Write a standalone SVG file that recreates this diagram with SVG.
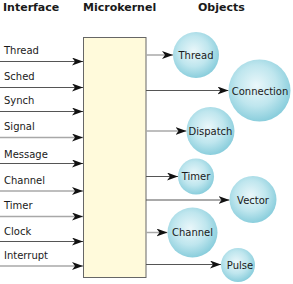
<svg xmlns="http://www.w3.org/2000/svg" width="293" height="284" viewBox="0 0 293 284">
<style>
text{font-family:"DejaVu Sans","Verdana",sans-serif;fill:#1a1a1a}
.h{font-size:11px;font-weight:bold}
.l{font-size:10px}
.o{font-size:10px;text-anchor:middle}
.d{stroke:#555;stroke-width:1;fill:none;marker-end:url(#ah)}
.g{stroke:#a8a8a8;stroke-width:1.5;fill:none;marker-end:url(#ah)}
.c{fill:url(#bg)}
</style>
<defs>
<marker id="ah" markerUnits="userSpaceOnUse" markerWidth="12" markerHeight="9" refX="11" refY="4" orient="auto">
<path d="M0,0 L11,4 L0,8 L3,4 Z" fill="#111"/>
</marker>
<radialGradient id="bg" cx="0.45" cy="0.42" r="0.6">
<stop offset="0" stop-color="#eaf7fa"/>
<stop offset="0.55" stop-color="#bfe6ee"/>
<stop offset="1" stop-color="#86ccdb"/>
</radialGradient>
</defs>
<rect width="293" height="284" fill="#fff"/>
<g id="headers">
<text class="h" x="3" y="11">Interface</text>
<text class="h" x="83" y="11">Microkernel</text>
<text class="h" x="198" y="11">Objects</text>
</g>
<g id="microkernel">
<rect x="83.5" y="37.5" width="62.5" height="240" fill="#fffadb" stroke="#666" stroke-width="1"/>
</g>
<g id="interface">
<text class="l" x="4" y="54">Thread</text>
<text class="l" x="4" y="80">Sched</text>
<text class="l" x="4" y="104">Synch</text>
<text class="l" x="4" y="130">Signal</text>
<text class="l" x="4" y="157.5">Message</text>
<text class="l" x="4" y="184">Channel</text>
<text class="l" x="4" y="208.5">Timer</text>
<text class="l" x="4" y="235">Clock</text>
<text class="l" x="4" y="259">Interrupt</text>
</g>
<g id="connectors">
<line class="d" x1="0" y1="61.5" x2="83" y2="61.5"/>
<line class="d" x1="0" y1="87.5" x2="83" y2="87.5"/>
<line class="d" x1="0" y1="111.5" x2="83" y2="111.5"/>
<line class="g" x1="0" y1="137.5" x2="83" y2="137.5"/>
<line class="d" x1="0" y1="163.5" x2="83" y2="163.5"/>
<line class="g" x1="0" y1="191" x2="83" y2="191"/>
<line class="g" x1="0" y1="216.5" x2="83" y2="216.5"/>
<line class="d" x1="0" y1="241.5" x2="83" y2="241.5"/>
<line class="g" x1="0" y1="266" x2="83" y2="266"/>
<line class="g" x1="146" y1="55" x2="173" y2="55"/>
<line class="d" x1="146" y1="90.5" x2="228.5" y2="90.5"/>
<line class="g" x1="146" y1="131" x2="186.5" y2="131"/>
<line class="d" x1="146" y1="176.5" x2="178" y2="176.5"/>
<line class="d" x1="146" y1="200" x2="229.5" y2="200"/>
<line class="g" x1="146" y1="232.5" x2="167.5" y2="232.5"/>
<line class="d" x1="146" y1="264.5" x2="221" y2="264.5"/>
</g>
<g id="obj-thread"><circle class="c" cx="196" cy="55" r="23"/><text class="o" x="196" y="59">Thread</text></g>
<g id="obj-connection"><circle class="c" cx="259.5" cy="90.5" r="31"/><text class="o" x="260" y="95">Connection</text></g>
<g id="obj-dispatch"><circle class="c" cx="210.5" cy="131" r="24"/><text class="o" x="210.5" y="134.5">Dispatch</text></g>
<g id="obj-timer"><circle class="c" cx="196" cy="176.5" r="18"/><text class="o" x="196" y="180">Timer</text></g>
<g id="obj-vector"><circle class="c" cx="253" cy="199.5" r="23.5"/><text class="o" x="253" y="203.5">Vector</text></g>
<g id="obj-channel"><circle class="c" cx="192.5" cy="232.5" r="25"/><text class="o" x="192.5" y="236">Channel</text></g>
<g id="obj-pulse"><circle class="c" cx="238" cy="265" r="17"/><text class="o" x="240" y="268.5">Pulse</text></g>
</svg>
